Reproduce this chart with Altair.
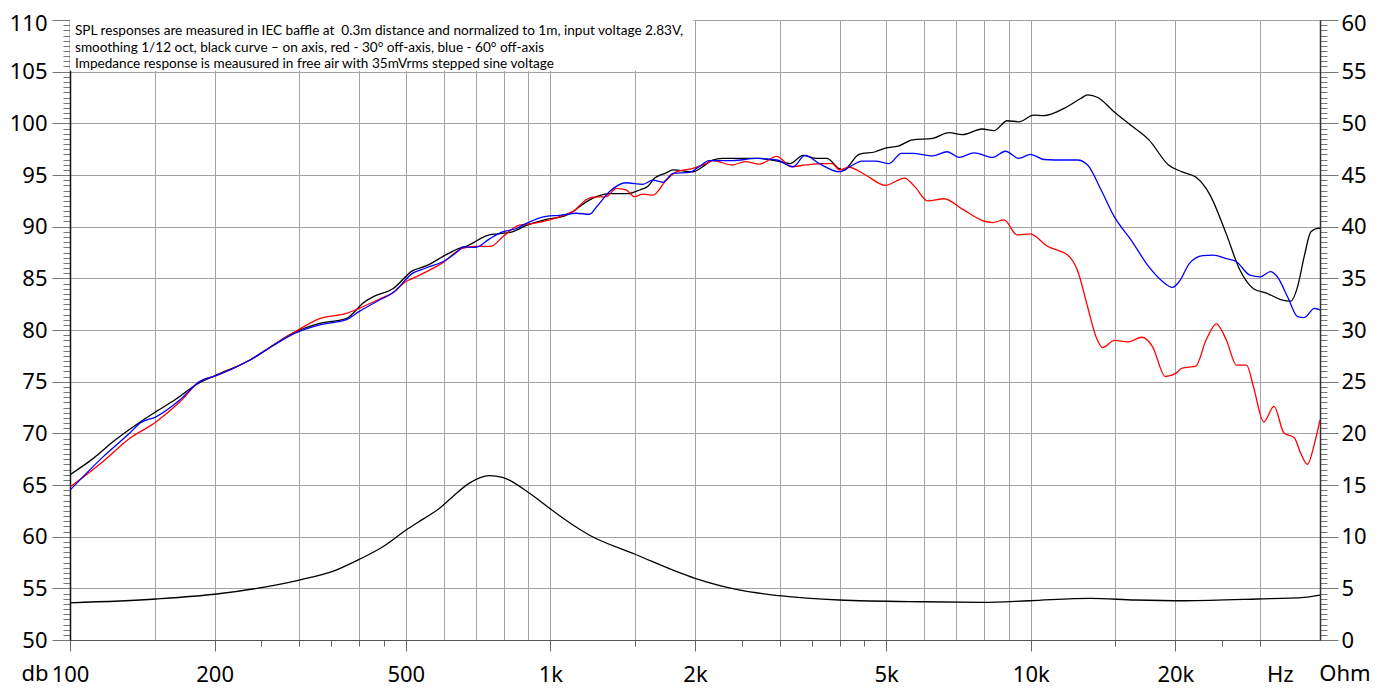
import altair as alt
import pandas as pd

# ---------------- data ----------------
black_f = [100, 112, 123, 140, 151, 166, 183, 202, 237, 265, 291, 331, 376, 388, 407, 427, 470,
           517, 551, 607, 646, 667, 746, 777, 833, 889, 980, 1078, 1113, 1187, 1247, 1328, 1450,
           1533, 1596, 1648, 1742, 1799, 1980, 2075, 2175, 2284, 2727, 3000, 3150, 3360, 3580,
           3760, 4000, 4100, 4183, 4390, 4750, 4980, 5300, 5675, 6244, 6760, 7200, 7920, 8390,
           8930, 9440, 10150, 10650, 11730, 12700, 13130, 13790, 14920, 16180, 17620, 19350,
           20660, 22050, 23530, 25500, 27250, 29080, 31040, 33120, 34800, 35930, 37080, 38300,
           39870, 40000]
black_db = [66.0, 67.6, 69.2, 71.1, 72.1, 73.3, 74.7, 75.65, 77.1, 78.55, 79.7, 80.65, 81.1, 81.6,
            82.6, 83.2, 84.0, 85.75, 86.2, 87.3, 87.9, 88.1, 89.2, 89.3, 89.5, 90.1, 90.7, 91.1,
            91.45, 92.4, 92.9, 93.2, 93.2, 93.55, 93.9, 94.7, 95.2, 95.5, 95.3, 95.8, 96.45, 96.6,
            96.6, 96.3, 96.1, 96.9, 96.6, 96.6, 95.6, 95.45, 95.9, 97.0, 97.25, 97.6, 97.8, 98.4,
            98.55, 99.1, 98.9, 99.45, 99.3, 100.25, 100.15, 100.8, 100.75, 101.45, 102.4, 102.75,
            102.5, 101.1, 99.8, 98.4, 95.97, 95.3, 94.8, 93.2, 89.35, 85.8, 84.0, 83.55, 82.95,
            82.8, 84.2, 87.1, 89.5, 89.85, 89.8]

red_f = [100, 117, 133, 151, 169, 186, 202, 237, 291, 331, 376, 400, 441, 470, 501, 517, 596, 656,
         700, 752, 795, 861, 917, 996, 1078, 1113, 1187, 1226, 1306, 1372, 1437, 1497, 1557, 1634,
         1742, 1829, 1980, 2110, 2175, 2392, 2542, 2727, 2960, 3175, 3400, 3680, 3860, 4000, 4183,
         4530, 4980, 5460, 5730, 6100, 6600, 7200, 8050, 8330, 8800, 9360, 9970, 10830, 11930,
         12500, 13130, 13670, 14120, 14920, 15920, 17030, 17920, 19060, 20020, 20660, 22050,
         23160, 24340, 25550, 26800, 28130, 29080, 30540, 32080, 33680, 35340, 36480, 37660,
         38950, 40000]
red_db = [64.8, 67.25, 69.5, 71.1, 73.0, 75.0, 75.6, 77.1, 79.7, 81.1, 81.6, 82.1, 83.0, 83.6, 84.7,
          85.0, 86.5, 87.9, 88.1, 88.1, 89.0, 90.15, 90.3, 90.65, 91.2, 91.45, 92.6, 92.85, 92.9,
          93.7, 93.55, 92.9, 93.15, 93.05, 94.5, 95.3, 95.65, 96.1, 96.4, 95.97, 96.3, 96.05, 96.8,
          95.8, 95.97, 96.1, 96.1, 95.5, 95.75, 95.0, 94.0, 94.7, 93.9, 92.5, 92.7, 91.7, 90.5,
          90.4, 90.65, 89.2, 89.3, 88.1, 87.25, 85.8, 82.25, 79.35, 78.3, 79.0, 78.85, 79.3, 78.4,
          75.5, 75.8, 76.3, 76.5, 79.0, 80.6, 79.0, 76.6, 76.6, 74.5, 71.1, 72.6, 70.0, 69.6,
          68.05, 67.0, 69.0, 71.3]

blue_f = [100, 117, 133, 140, 151, 169, 186, 202, 237, 265, 291, 331, 376, 400, 441, 470, 517, 551,
          607, 646, 656, 700, 746, 795, 847, 889, 980, 1045, 1132, 1207, 1247, 1328, 1437, 1557,
          1634, 1715, 1799, 1946, 2040, 2140, 2392, 2690, 2960, 3200, 3390, 3630, 4000, 4183, 4455,
          4750, 5070, 5380, 5675, 6244, 6700, 7090, 7620, 8330, 8860, 9440, 9990, 10650, 11730,
          12500, 13130, 14010, 14920, 16180, 17620, 18800, 19730, 20380, 21400, 22800, 23960,
          25550, 26800, 28600, 30040, 31540, 32600, 34250, 35930, 37080, 38950, 40000]
blue_db = [64.5, 67.7, 70.0, 71.0, 71.6, 73.2, 75.0, 75.6, 77.1, 78.5, 79.6, 80.5, 81.0, 81.8, 82.9,
           83.6, 85.5, 86.0, 86.8, 87.75, 88.05, 88.0, 88.8, 89.5, 89.8, 90.3, 91.0, 91.1, 91.3,
           91.2, 91.9, 93.4, 94.25, 94.1, 94.5, 94.3, 95.15, 95.25, 95.8, 96.4, 96.4, 96.6, 96.45,
           95.8, 96.9, 96.1, 95.3, 95.75, 96.35, 96.35, 96.1, 97.1, 97.1, 96.85, 97.25, 96.7,
           97.15, 96.7, 97.3, 96.6, 97.0, 96.5, 96.45, 96.45, 95.97, 93.55, 90.97, 88.7, 86.1,
           84.7, 84.13, 84.7, 86.45, 87.2, 87.25, 86.9, 86.6, 85.3, 85.15, 85.65, 85.15, 83.2,
           81.3, 81.2, 82.1, 81.95]

imp_f = [100, 151, 202, 245, 300, 358, 400, 448, 501, 543, 588, 626, 677, 746, 795, 905, 949, 996,
         1204, 1500, 2000, 2470, 2990, 3990, 5970, 7920, 9930, 13300, 16500, 20980, 29700, 37100,
         40000]
imp_ohm = [3.6, 3.97, 4.45, 5.0, 5.8, 6.77, 7.8, 9.03, 10.65, 11.7, 12.74, 13.87, 15.16, 15.9,
           15.74, 14.2, 13.5, 12.74, 10.16, 8.3, 5.97, 4.84, 4.29, 3.87, 3.7, 3.65, 3.8, 4.03, 3.87,
           3.8, 3.97, 4.13, 4.35]

annotation = ("SPL responses are measured in IEC baffle at \u00a00.3m distance and normalized to 1m, input voltage 2.83V,\n"
              "smoothing 1/12 oct, black curve \u2013 on axis, red - 30\u00b0 off-axis, blue - 60\u00b0 off-axis\n"
              "Impedance response is meausured in free air with 35mVrms stepped sine voltage")

x_grid = [100, 150, 200, 300, 400, 500, 600, 700, 800, 900, 1000, 1500, 2000, 3000, 4000, 5000,
          6000, 7000, 8000, 9000, 10000, 15000, 20000, 30000]
x_minor = [250, 300, 350, 400, 450, 1500, 2500, 3000, 3500, 4000, 4500, 15000, 25000, 30000]
x_labels = {100: "100", 200: "200", 500: "500", 1000: "1k", 2000: "2k", 5000: "5k",
            10000: "10k", 20000: "20k", 33000: "Hz"}

# ---------------- chart ----------------
FONT = "Noto Sans"
LBL = 22

x_values = sorted(set(x_grid) | set(x_minor) | set(x_labels))
major = list(x_labels)
expr = "''"
for v, t in x_labels.items():
    expr = f"datum.value == {v} ? '{t}' : ({expr})"

xaxis = alt.Axis(
    values=x_values, labelExpr=expr, title=None, labelOverlap=False, labelFlush=False,
    labelFont=FONT, labelFontSize=LBL, labelColor="black", labelPadding=13,
    grid=True, gridColor="#a3a3a3", gridWidth=1,
    gridOpacity={"condition": {"test": f"indexof({x_grid}, datum.value) >= 0", "value": 1}, "value": 0},
    tickSize={"condition": [{"test": f"indexof({major}, datum.value) >= 0", "value": 11},
                            {"test": f"indexof({x_minor}, datum.value) >= 0", "value": 6}],
              "value": 0},
    tickOpacity={"condition": {"test": "datum.value == 33000", "value": 0}, "value": 1},
    tickColor="#666", domainColor="#555", domainWidth=1,
)
xscale = alt.Scale(type="log", domain=[100, 40000], nice=False)
X = alt.X("freq:Q", scale=xscale, axis=xaxis)

def yaxis(orient, pad, lo):
    top = lo + 60
    return alt.Axis(
        orient=orient, values=[lo + i * 0.5 for i in range(121)], title=None,
        labelExpr="datum.value % 5 === 0 ? format(datum.value, 'd') : ''",
        labelOverlap=False, labelFlush=False, labelFont=FONT, labelFontSize=LBL,
        labelColor="black", labelPadding=pad,
        labelOffset={"condition": {"test": f"datum.value == {top}", "value": 3}, "value": 0},
        grid=orient == "left", gridColor="#a3a3a3", gridWidth=1,
        gridOpacity={"condition": {"test": "datum.value % 5 === 0", "value": 1}, "value": 0},
        tickSize={"condition": {"test": "datum.value % 5 === 0", "value": 18}, "value": 7},
        tickColor="#777", domainColor="#111" if orient == "left" else "#333", domainWidth=1.5,
    )

yl_axis = yaxis("left", 5, 50)
yl_scale = alt.Scale(domain=[50, 110], nice=False, zero=False)
YL = alt.Y("val:Q", scale=yl_scale, axis=yl_axis)
YR = alt.Y("val:Q", scale=alt.Scale(domain=[0, 60], nice=False, zero=False), axis=yaxis("right", 3, 0))

def frame(f, v):
    return pd.DataFrame({"freq": f, "val": v})

one = pd.DataFrame({"k": [0]})

# white panel behind the note (hides the grid there)
box = alt.Chart(one).mark_rect(color="white").encode(
    x=alt.X(datum=100, scale=xscale, axis=xaxis), x2=alt.X2(datum=1985),
    y=alt.Y(datum=110, scale=yl_scale, axis=yl_axis), y2=alt.Y2(datum=105.08))
note = alt.Chart(one).mark_text(
    align="left", baseline="top", lineBreak="\n", lineHeight=16.5, font="Lato", fontSize=13.6,
    color="black").encode(x=alt.value(5), y=alt.value(4), text=alt.value(annotation))
db_lbl = alt.Chart(one).mark_text(baseline="top", font=FONT, fontSize=LBL, color="black").encode(
    x=alt.value(-35), y=alt.value(644), text=alt.value("db"))
ohm_lbl = alt.Chart(one).mark_text(baseline="top", font=FONT, fontSize=LBL, color="black").encode(
    x=alt.value(1275), y=alt.value(644), text=alt.value("Ohm"))

def curve(f, v, color, y):
    return alt.Chart(frame(f, v)).mark_line(
        color=color, strokeWidth=1.3, interpolate="monotone", clip=True).encode(x=X, y=y)

left = alt.layer(
    box, note, db_lbl, ohm_lbl,
    curve(black_f, black_db, "black", YL),
    curve(red_f, red_db, "#ff0000", YL),
    curve(blue_f, blue_db, "#0000ff", YL),
)
right = curve(imp_f, imp_ohm, "black", YR)

chart = alt.layer(left, right).resolve_scale(y="independent").properties(
    width=1250, height=620,
    autosize=alt.AutoSizeParams(type="none"),
    padding={"left": 62, "top": 12, "right": 60, "bottom": 47},
).configure_view(stroke="#666", strokeWidth=1)

chart.save("out.html", embed_options={"renderer": "svg", "actions": False})
